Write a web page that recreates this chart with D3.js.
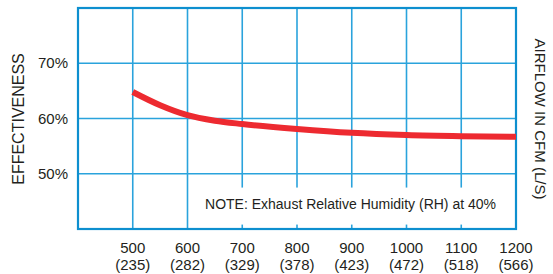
<!DOCTYPE html>
<html>
<head>
<meta charset="utf-8">
<script src="https://cdn.jsdelivr.net/npm/d3@7"></script>
<style>
  body { margin: 0; background: #fff; }
  text { font-family: "Liberation Sans", Arial, sans-serif; fill: #231f20; }
</style>
</head>
<body>
<div id="chart"></div>
<script>
// airflow in CFM and matching L/S labels
var cfmTicks = [500, 600, 700, 800, 900, 1000, 1100, 1200];
var lsTicks = ["(235)", "(282)", "(329)", "(378)", "(423)", "(472)", "(518)", "(566)"];
var pctTicks = [50, 60, 70];

// effectiveness curve
var airflow = [500, 550, 600, 650, 700, 800, 900, 1000, 1100, 1200];
var effectiveness = [64.8, 62.4, 60.6, 59.6, 59.0, 58.1, 57.4, 57.0, 56.8, 56.7];

var width = 553, height = 274;
var margin = { top: 8, right: 37, bottom: 45, left: 78 };

var svg = d3.select("#chart").append("svg")
	.attr("width", width)
	.attr("height", height);

var x = d3.scaleLinear().domain([400, 1200]).range([margin.left, width - margin.right]);
var y = d3.scaleLinear().domain([40, 80]).range([height - margin.bottom, margin.top]);

var gridColor = "#2aa3dc", borderColor = "#0d8fcf";

// grid
svg.append("g").selectAll("line")
	.data(d3.range(500, 1200, 100))
	.enter().append("line")
	.attr("x1", d => x(d)).attr("x2", d => x(d))
	.attr("y1", y(80)).attr("y2", y(40))
	.attr("stroke", gridColor).attr("stroke-width", 1.6);

svg.append("g").selectAll("line")
	.data(d3.range(50, 80, 10))
	.enter().append("line")
	.attr("x1", x(400)).attr("x2", x(1200))
	.attr("y1", d => y(d)).attr("y2", d => y(d))
	.attr("stroke", gridColor).attr("stroke-width", 1.6);

// note box hides grid behind text
svg.append("rect")
	.attr("x", x(614)).attr("y", y(47.5))
	.attr("width", x(1193) - x(614)).attr("height", y(40.8) - y(47.5))
	.attr("fill", "#fff");

svg.append("text")
	.attr("x", x(632)).attr("y", y(43.6))
	.attr("font-size", 14)
	.text("NOTE: Exhaust Relative Humidity (RH) at 40%");

// border
svg.append("rect")
	.attr("x", x(400)).attr("y", y(80))
	.attr("width", x(1200) - x(400)).attr("height", y(40) - y(80))
	.attr("fill", "none").attr("stroke", borderColor).attr("stroke-width", 2.2);

// curve
var line = d3.line()
	.x((d, i) => x(airflow[i]))
	.y(d => y(d))
	.curve(d3.curveMonotoneX);

svg.append("path")
	.datum(effectiveness)
	.attr("d", line)
	.attr("fill", "none")
	.attr("stroke", "#ed2a30")
	.attr("stroke-width", 6);

// x tick labels
svg.append("g").selectAll("text")
	.data(cfmTicks)
	.enter().append("text")
	.attr("x", d => x(d)).attr("y", 253)
	.attr("text-anchor", "middle")
	.attr("font-size", 15)
	.text(d => d);

svg.append("g").selectAll("text")
	.data(lsTicks)
	.enter().append("text")
	.attr("x", (d, i) => x(cfmTicks[i])).attr("y", 270)
	.attr("text-anchor", "middle")
	.attr("font-size", 15)
	.text(d => d);

// y tick labels
svg.append("g").selectAll("text")
	.data(pctTicks)
	.enter().append("text")
	.attr("x", 68).attr("y", d => y(d) + 5)
	.attr("text-anchor", "end")
	.attr("font-size", 15)
	.text(d => d + "%");

// axis titles
svg.append("text")
	.attr("transform", "translate(24," + 119 + ") rotate(-90)")
	.attr("text-anchor", "middle")
	.attr("font-size", 16)
	.text("EFFECTIVENESS");

svg.append("text")
	.attr("transform", "translate(535," + 119 + ") rotate(90)")
	.attr("text-anchor", "middle")
	.attr("font-size", 15)
	.text("AIRFLOW IN CFM (L/S)");
</script>
</body>
</html>
